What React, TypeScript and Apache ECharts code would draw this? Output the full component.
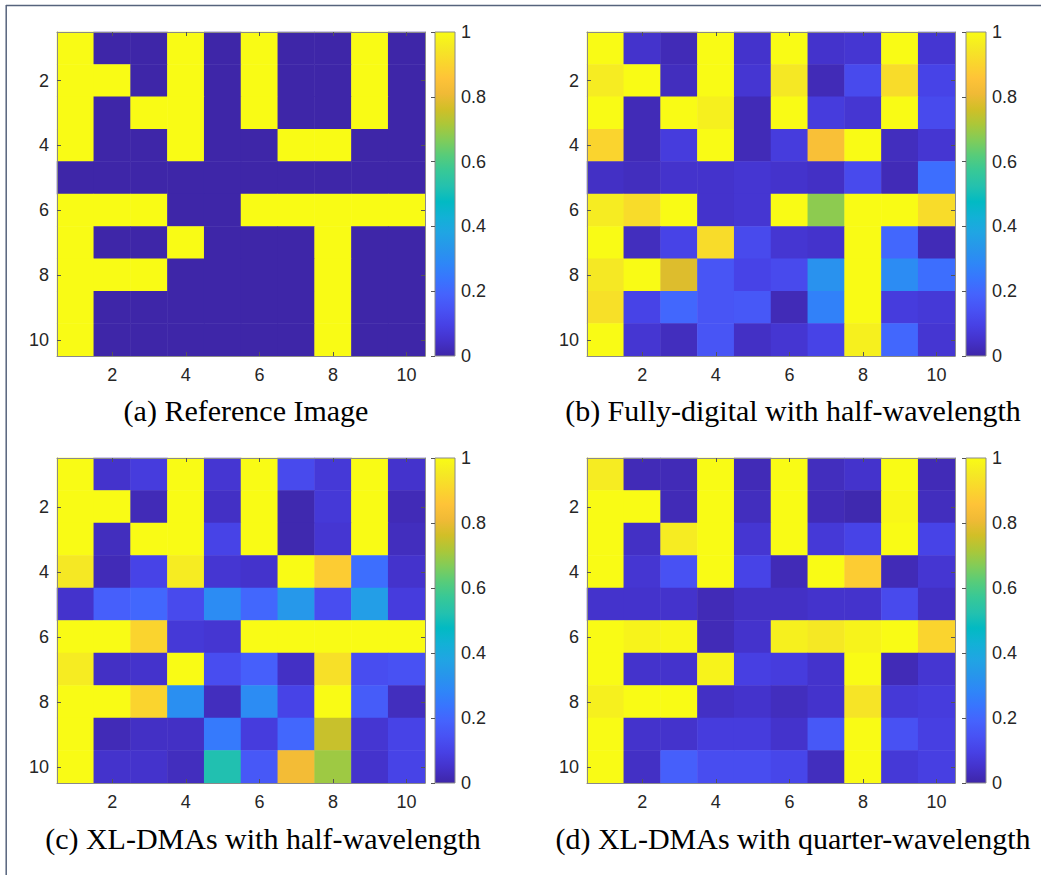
import React, { useEffect, useRef } from "react";
import * as echarts from "echarts";

const xCategories = ["1", "2", "3", "4", "5", "6", "7", "8", "9", "10"];
const yCategories = ["1", "2", "3", "4", "5", "6", "7", "8", "9", "10"];
const colorbarTicks = [0, 0.2, 0.4, 0.6, 0.8, 1];

const captionA = "(a) Reference Image";
const captionB = "(b) Fully-digital with half-wavelength";
const captionC = "(c) XL-DMAs with half-wavelength";
const captionD = "(d) XL-DMAs with quarter-wavelength";

// rows top (1) to bottom (10), columns 1..10
const referenceImage = [
  [1, 0, 0, 1, 0, 1, 0, 0, 1, 0],
  [1, 1, 0, 1, 0, 1, 0, 0, 1, 0],
  [1, 0, 1, 1, 0, 1, 0, 0, 1, 0],
  [1, 0, 0, 1, 0, 0, 1, 1, 0, 0],
  [0, 0, 0, 0, 0, 0, 0, 0, 0, 0],
  [1, 1, 1, 0, 0, 1, 1, 1, 1, 1],
  [1, 0, 0, 1, 0, 0, 0, 1, 0, 0],
  [1, 1, 1, 0, 0, 0, 0, 1, 0, 0],
  [1, 0, 0, 0, 0, 0, 0, 1, 0, 0],
  [1, 0, 0, 0, 0, 0, 0, 1, 0, 0],
];

const fullyDigitalHalf = [
  [1.0, 0.05, 0.02, 1.0, 0.05, 1.0, 0.05, 0.06, 1.0, 0.06],
  [0.96, 1.0, 0.03, 1.0, 0.06, 0.95, 0.02, 0.12, 0.92, 0.1],
  [1.0, 0.02, 1.0, 0.97, 0.02, 1.0, 0.08, 0.06, 1.0, 0.12],
  [0.9, 0.02, 0.08, 1.0, 0.02, 0.08, 0.84, 1.0, 0.03, 0.06],
  [0.04, 0.03, 0.05, 0.05, 0.06, 0.05, 0.04, 0.12, 0.02, 0.22],
  [0.96, 0.92, 1.0, 0.05, 0.06, 1.0, 0.68, 1.0, 1.0, 0.92],
  [1.0, 0.03, 0.1, 0.92, 0.12, 0.06, 0.05, 1.0, 0.2, 0.02],
  [0.95, 1.0, 0.78, 0.15, 0.1, 0.12, 0.32, 1.0, 0.3, 0.22],
  [0.93, 0.1, 0.2, 0.15, 0.16, 0.02, 0.27, 1.0, 0.08, 0.07],
  [1.0, 0.06, 0.03, 0.15, 0.04, 0.06, 0.1, 0.97, 0.2, 0.06],
];

const xlDmaHalf = [
  [1.0, 0.05, 0.08, 1.0, 0.06, 1.0, 0.12, 0.07, 1.0, 0.05],
  [1.0, 1.0, 0.02, 1.0, 0.04, 1.0, 0.01, 0.07, 1.0, 0.02],
  [1.0, 0.03, 1.0, 1.0, 0.1, 1.0, 0.01, 0.06, 1.0, 0.03],
  [0.95, 0.02, 0.1, 0.96, 0.06, 0.05, 1.0, 0.88, 0.22, 0.05],
  [0.05, 0.18, 0.2, 0.12, 0.3, 0.2, 0.34, 0.13, 0.36, 0.08],
  [1.0, 1.0, 0.9, 0.07, 0.06, 1.0, 1.0, 1.0, 1.0, 1.0],
  [0.96, 0.04, 0.05, 1.0, 0.13, 0.18, 0.04, 0.93, 0.13, 0.14],
  [1.0, 1.0, 0.9, 0.31, 0.03, 0.3, 0.1, 1.0, 0.17, 0.03],
  [1.0, 0.02, 0.04, 0.04, 0.25, 0.08, 0.2, 0.75, 0.06, 0.1],
  [1.0, 0.05, 0.05, 0.03, 0.52, 0.16, 0.82, 0.7, 0.05, 0.1],
];

const xlDmaQuarter = [
  [0.96, 0.02, 0.02, 1.0, 0.02, 1.0, 0.03, 0.05, 1.0, 0.02],
  [1.0, 1.0, 0.02, 1.0, 0.03, 1.0, 0.02, 0.01, 0.99, 0.03],
  [1.0, 0.04, 0.96, 1.0, 0.06, 1.0, 0.07, 0.1, 1.0, 0.1],
  [1.0, 0.06, 0.14, 1.0, 0.1, 0.02, 1.0, 0.88, 0.02, 0.06],
  [0.05, 0.05, 0.05, 0.02, 0.04, 0.04, 0.05, 0.05, 0.12, 0.04],
  [1.0, 0.98, 0.99, 0.02, 0.05, 0.97, 0.95, 0.98, 1.0, 0.9],
  [1.0, 0.05, 0.05, 0.98, 0.09, 0.08, 0.05, 1.0, 0.02, 0.06],
  [0.97, 1.0, 1.0, 0.04, 0.05, 0.03, 0.05, 0.94, 0.07, 0.08],
  [1.0, 0.05, 0.05, 0.08, 0.08, 0.05, 0.16, 1.0, 0.14, 0.09],
  [1.0, 0.04, 0.18, 0.13, 0.13, 0.11, 0.03, 1.0, 0.07, 0.09],
];

// MATLAB parula (R2014b), sampled evenly
const parula = [
  "rgb(62,38,168)", "rgb(68,50,203)", "rgb(71,65,229)", "rgb(72,82,244)",
  "rgb(69,99,253)", "rgb(56,117,254)", "rgb(46,135,247)", "rgb(39,150,235)",
  "rgb(32,165,227)", "rgb(18,177,214)", "rgb(2,186,195)", "rgb(36,193,174)",
  "rgb(55,200,151)", "rgb(87,204,122)", "rgb(129,204,89)", "rgb(171,199,57)",
  "rgb(209,191,39)", "rgb(240,186,54)", "rgb(254,195,56)", "rgb(250,214,45)",
  "rgb(245,233,36)", "rgb(249,251,21)",
];

const panels = [
  { rows: referenceImage, caption: captionA, gx: 57, gy: 32, gh: 324, cbx: 435, capX: 246, capY: 410 },
  { rows: fullyDigitalHalf, caption: captionB, gx: 587, gy: 32, gh: 324, cbx: 966, capX: 793, capY: 410 },
  { rows: xlDmaHalf, caption: captionC, gx: 57, gy: 458, gh: 325, cbx: 435, capX: 263, capY: 838 },
  { rows: xlDmaQuarter, caption: captionD, gx: 587, gy: 458, gh: 325, cbx: 966, capX: 793, capY: 838 },
];

const AXIS_COLOR = "#8a8a8a";
const TEXT_COLOR = "#262626";
const TICK_FONT = "Liberation Sans";
const TICK_SIZE = 18;

export default function App() {
  const ref = useRef<HTMLDivElement>(null);

  useEffect(() => {
    if (!ref.current) return;
    const chart = echarts.init(ref.current, undefined, { renderer: "svg" });

    const grid: any[] = [];
    const xAxis: any[] = [];
    const yAxis: any[] = [];
    const series: any[] = [];
    const graphic: any[] = [];

    const everyOther = (i: number) => i % 2 === 1;

    panels.forEach((p) => {
      grid.push({ left: p.gx, top: p.gy, width: 368, height: p.gh, containLabel: false });
    });
    panels.forEach((p) => {
      grid.push({ left: p.cbx, top: p.gy, width: 20, height: p.gh, containLabel: false });
    });

    panels.forEach((p, i) => {
      const common = {
        type: "category",
        gridIndex: i,
        z: 10,
        axisLine: { show: true, lineStyle: { color: AXIS_COLOR, width: 1 } },
        axisTick: { show: true, inside: true, length: 4, alignWithLabel: true, interval: everyOther, lineStyle: { color: "#555" } },
        splitLine: { show: false },
      };
      xAxis.push({
        ...common,
        data: xCategories,
        position: "bottom",
        axisLabel: { show: true, interval: everyOther, fontSize: TICK_SIZE, color: TEXT_COLOR, fontFamily: TICK_FONT, margin: 10 },
      });
      xAxis.push({ ...common, data: xCategories, position: "top", axisLabel: { show: false } });
      yAxis.push({
        ...common,
        data: yCategories,
        inverse: true,
        position: "left",
        axisLabel: { show: true, interval: everyOther, fontSize: TICK_SIZE, color: TEXT_COLOR, fontFamily: TICK_FONT, margin: 8 },
      });
      yAxis.push({ ...common, data: yCategories, inverse: true, position: "right", axisLabel: { show: false } });

      const data: number[][] = [];
      p.rows.forEach((row, r) => row.forEach((v, c) => data.push([c, r, v])));
      series.push({
        type: "heatmap",
        xAxisIndex: 2 * i,
        yAxisIndex: 2 * i,
        data,
        itemStyle: { borderWidth: 0, borderColor: "transparent" },
        emphasis: { disabled: true },
      });

      graphic.push({
        type: "text",
        x: p.capX,
        y: p.capY,
        z: 20,
        style: {
          text: p.caption,
          fontFamily: "Liberation Serif",
          fontSize: 30,
          fill: "#000",
          textAlign: "center",
          textVerticalAlign: "middle",
        },
      });

      graphic.push({
        type: "rect",
        z: 0,
        shape: { x: p.cbx, y: p.gy, width: 20, height: p.gh },
        style: {
          fill: new echarts.graphic.LinearGradient(
            0, 1, 0, 0,
            parula.map((c, k) => ({ offset: k / (parula.length - 1), color: c }))
          ),
          stroke: AXIS_COLOR,
          lineWidth: 1,
        },
      });
    });

    panels.forEach((p, i) => {
      xAxis.push({ type: "value", gridIndex: 4 + i, show: false, min: 0, max: 1 });
      yAxis.push({
        type: "value",
        gridIndex: 4 + i,
        position: "right",
        min: colorbarTicks[0],
        max: colorbarTicks[colorbarTicks.length - 1],
        interval: 0.2,
        z: 10,
        axisLine: { show: false },
        axisTick: { show: true, inside: true, length: 4, lineStyle: { color: "#555" } },
        splitLine: { show: false },
        axisLabel: { show: true, fontSize: TICK_SIZE, color: TEXT_COLOR, fontFamily: TICK_FONT, margin: 6 },
      });
    });

    graphic.push({
      type: "line",
      z: 20,
      shape: { x1: 6, y1: 5.5, x2: 1041, y2: 5.5 },
      style: { stroke: "#56637c", lineWidth: 1.5 },
    });
    graphic.push({
      type: "line",
      z: 20,
      shape: { x1: 6.2, y1: 5, x2: 6.2, y2: 875 },
      style: { stroke: "#56637c", lineWidth: 1.5 },
    });

    chart.setOption({
      animation: false,
      backgroundColor: "#ffffff",
      grid,
      xAxis,
      yAxis,
      visualMap: {
        type: "continuous",
        show: false,
        min: 0,
        max: 1,
        dimension: 2,
        seriesIndex: [0, 1, 2, 3],
        inRange: { color: parula },
      },
      series,
      graphic,
    });

    return () => chart.dispose();
  }, []);

  return (
    <div
      ref={ref}
      style={{ position: "absolute", left: 0, top: 0, width: 1041, height: 875 }}
    />
  );
}
